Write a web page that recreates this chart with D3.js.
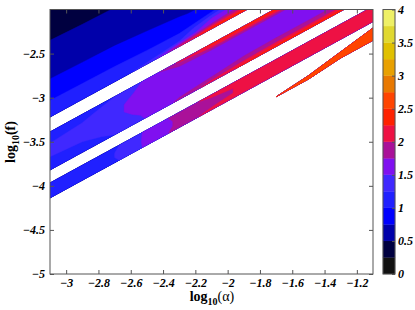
<!DOCTYPE html>
<html>
<head>
<meta charset="utf-8">
<script src="https://cdn.jsdelivr.net/npm/d3@7"></script>
<style>
body { margin: 0; background: #fff; }
text { font-family: "Liberation Serif", "Times New Roman", serif; }
.tick text { font-size: 12px; font-weight: bold; font-style: italic; fill: #000; }
</style>
</head>
<body>
<svg id="chart" width="415" height="310"></svg>
<script>
// grid columns: log10(alpha)
var alphaCols = [-3.1, -2.9, -2.7, -2.5, -2.3, -2.1, -1.9, -1.7, -1.5, -1.3, -1.1];
// grid rows: log10(f) - log10(alpha)  (the bands run along these)
var offsetRows = [1.15, 0.95, 0.75, 0.55, 0.35, 0.2, 0.08, 0, -0.06, -0.119,
                  -0.2, -0.289, -0.36, -0.44, -0.52, -0.6, -0.66, -0.72,
                  -0.79, -0.867, -0.93, -0.98, -1.037, -1.07, -1.11, -1.18,
                  -1.25, -1.29, -1.35, -1.45];
// value at each row/column, "-" = blank
var levelRows = [
  ".33 .34 .36 .38 .40 .42 .45 .45 .45 .45 .45",
  ".42 .43 .44 .45 .46 .47 .50 .50 .50 .50 .50",
  ".50 .49 .485 .49 .50 .51 .53 .53 .53 .53 .53",
  ".61 .60 .59 .58 .57 .56 .57 .57 .57 .57 .57",
  ".72 .71 .70 .68 .66 .64 .64 .64 .64 .64 .64",
  ".84 .83 .82 .79 .76 .72 .72 .72 .72 .72 .72",
  ".99 .98 .97 .94 .90 .95 1.2 1.2 1.2 1.2 1.2",
  "1.06 1.06 1.06 1.05 1.05 1.5 1.6 1.6 1.6 1.6 1.6",
  "1.10 1.10 1.12 1.13 1.25 1.75 1.9 1.9 1.9 1.9 1.9",
  "1.14 1.15 1.18 1.3 2.0 2.45 2.45 2.45 2.45 2.45 2.45",
  "- - - - - - - - - - -",
  "1.12 1.15 1.25 1.55 2.05 2.35 2.4 2.45 2.45 2.45 2.45",
  "1.18 1.22 1.35 1.60 1.68 1.74 1.74 1.74 1.74 1.74 1.74",
  "1.28 1.32 1.45 1.62 1.65 1.66 1.66 1.66 1.66 1.66 1.66",
  "1.30 1.33 1.45 1.62 1.64 1.65 1.65 1.65 1.65 1.65 1.65",
  "1.22 1.25 1.38 1.60 1.64 1.66 1.67 1.67 1.67 1.67 1.67",
  "1.15 1.18 1.30 1.55 1.66 1.74 1.85 1.9 1.9 1.9 1.9",
  "1.10 1.12 1.25 1.52 1.8 2.1 2.3 2.4 2.4 2.4 2.4",
  "- - - - - - - - - - -",
  "1.08 1.10 1.20 1.55 1.85 2.1 2.2 2.2 2.2 2.25 2.25",
  "1.10 1.12 1.25 1.55 1.8 1.9 2.05 2.1 2.12 2.15 2.15",
  "1.10 1.12 1.25 1.55 1.8 1.9 2.05 2.1 2.12 2.15 2.15",
  "1.08 1.10 1.20 1.55 1.85 2.1 2.2 2.2 2.2 2.25 2.25",
  "- - - - - - - - - - -",
  "- - - - - - - - - - 2.6",
  "- - - - - - - - - 2.6 2.7",
  "- - - - - - - - 2.6 2.6 2.6",
  "- - - - - - - 2.55 2.6 - -",
  "- - - - - - - - - - -",
  "- - - - - - - - - - -"
];

var levels = d3.range(0, 4, 0.25);
var levelColors = ["#111111", "#000040", "#0000aa", "#0000ff", "#2020ff", "#4028ff",
                   "#8010f0", "#aa1199", "#ee1144", "#ff2200", "#ff4400", "#e87800",
                   "#e8a000", "#e0c000", "#e0d830", "#eef066"];
var xTicks = [-3, -2.8, -2.6, -2.4, -2.2, -2, -1.8, -1.6, -1.4, -1.2];
var yTicks = [-5, -4.5, -4, -3.5, -3, -2.5];
var barTicks = [0, 0.5, 1, 1.5, 2, 2.5, 3, 3.5, 4];

var pL = 50, pR = 373, pT = 9.5, pB = 274;
var svg = d3.select("#chart");

var x = d3.scaleLinear().domain([-3.1, -1.1]).range([pL, pR]);
var y = d3.scaleLinear().domain([-5, -2]).range([pB, pT]);
var fmt = d3.format("");

var values = [];
levelRows.forEach(function(row) {
  row.trim().split(/\s+/).forEach(function(s) {
    values.push(s === "-" ? NaN : +s);
  });
});
var nx = alphaCols.length, ny = offsetRows.length;

function at(arr, t) {
  var i = Math.max(0, Math.min(arr.length - 2, Math.floor(t)));
  return arr[i] + (arr[i + 1] - arr[i]) * (t - i);
}

// grid index -> (log alpha, log f) -> pixels
var proj = d3.geoTransform({
  point: function(gx, gy) {
    var u = at(alphaCols, gx - 0.5), c = at(offsetRows, gy - 0.5);
    this.stream.point(x(u), y(u + c));
  }
});
var path = d3.geoPath(proj);

svg.append("clipPath").attr("id", "plotclip")
  .append("rect")
  .attr("x", pL).attr("y", pT)
  .attr("width", pR - pL).attr("height", pB - pT);

var contours = d3.contours().size([nx, ny]).thresholds(levels)(values);

svg.append("g")
  .attr("clip-path", "url(#plotclip)")
  .selectAll("path")
  .data(contours)
  .enter().append("path")
  .attr("d", path)
  .attr("fill", function(d, i) { return levelColors[i]; })
  .attr("stroke", function(d, i) { return levelColors[i]; })
  .attr("stroke-width", 0.4);

// axes
svg.append("g")
  .attr("transform", "translate(0," + pB + ")")
  .call(d3.axisBottom(x).tickValues(xTicks).tickSizeInner(-4).tickSizeOuter(0).tickPadding(4).tickFormat(fmt));
svg.append("g")
  .attr("transform", "translate(0," + pT + ")")
  .call(d3.axisTop(x).tickValues(xTicks).tickSizeInner(-4).tickSizeOuter(0).tickFormat(""));
svg.append("g")
  .attr("transform", "translate(" + pL + ",0)")
  .call(d3.axisLeft(y).tickValues(yTicks).tickSizeInner(-4).tickSizeOuter(0).tickPadding(5).tickFormat(fmt));
svg.append("g")
  .attr("transform", "translate(" + pR + ",0)")
  .call(d3.axisRight(y).tickValues(yTicks).tickSizeInner(-4).tickSizeOuter(0).tickFormat(""));

svg.selectAll(".domain").remove();
svg.selectAll(".tick line").attr("stroke", "#555");

svg.append("rect")
  .attr("x", pL).attr("y", pT)
  .attr("width", pR - pL).attr("height", pB - pT)
  .attr("fill", "none")
  .attr("stroke", "#555")
  .attr("stroke-width", 1);

// axis titles
var xl = svg.append("text")
  .attr("x", 212).attr("y", 301)
  .attr("text-anchor", "middle")
  .style("font-size", "14px");
xl.append("tspan").attr("font-weight", "bold").text("log");
xl.append("tspan").attr("font-weight", "bold").attr("font-size", "10px").attr("dy", 4).text("10");
xl.append("tspan").attr("dy", -4).text("(α)");

var yl = svg.append("text")
  .attr("transform", "translate(15,142) rotate(-90)")
  .attr("text-anchor", "middle")
  .style("font-size", "14px")
  .attr("font-weight", "bold");
yl.append("tspan").text("log");
yl.append("tspan").attr("font-size", "10px").attr("dy", 4).text("10");
yl.append("tspan").attr("dy", -4).text("(f)");

// colour bar
var barX = 383, barW = 12;
var cb = d3.scaleLinear().domain([0, 4]).range([pB, pT]);
svg.append("g").selectAll("rect")
  .data(levels)
  .enter().append("rect")
  .attr("x", barX)
  .attr("y", function(d) { return cb(d + 0.25); })
  .attr("width", barW)
  .attr("height", function(d) { return cb(d) - cb(d + 0.25); })
  .attr("fill", function(d, i) { return levelColors[i]; })
  .attr("stroke", function(d, i) { return levelColors[i]; })
  .attr("stroke-width", 0.3);

var baxis = svg.append("g")
  .attr("transform", "translate(" + (barX + barW) + ",0)")
  .call(d3.axisRight(cb).tickValues(barTicks).tickSizeInner(-3).tickSizeOuter(0).tickPadding(3).tickFormat(fmt));
baxis.select(".domain").remove();
baxis.selectAll(".tick line").attr("stroke", "#555");

svg.append("rect")
  .attr("x", barX).attr("y", pT)
  .attr("width", barW).attr("height", pB - pT)
  .attr("fill", "none")
  .attr("stroke", "#555")
  .attr("stroke-width", 1);
</script>
</body>
</html>
